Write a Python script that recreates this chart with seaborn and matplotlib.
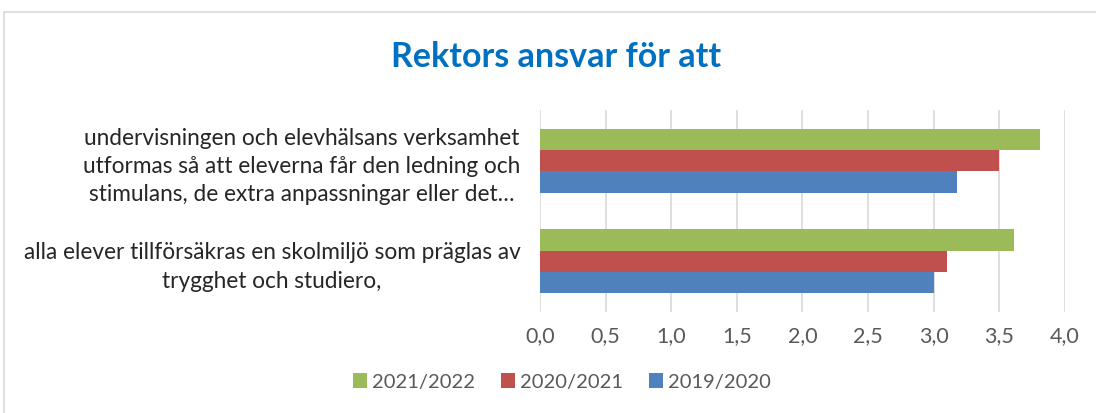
import matplotlib
matplotlib.use("Agg")
import matplotlib.pyplot as plt
import seaborn as sns
import pandas as pd
from matplotlib.patches import Rectangle
from matplotlib.ticker import FuncFormatter, MultipleLocator

categories = [
    "undervisningen och elevhälsans verksamhet\nutformas så att eleverna får den ledning och\nstimulans, de extra anpassningar eller det…",
    "alla elever tillförsäkras en skolmiljö som präglas av\ntrygghet och studiero,",
]
series = ["2021/2022", "2020/2021", "2019/2020"]
values_2021_2022 = [3.81, 3.61]
values_2020_2021 = [3.50, 3.10]
values_2019_2020 = [3.18, 3.00]
colors = ["#9BBB59", "#C0504D", "#4F81BD"]

rows = []
for s, vals in zip(series, [values_2021_2022, values_2020_2021, values_2019_2020]):
    for c, v in zip(categories, vals):
        rows.append({"category": c, "series": s, "value": v})
df = pd.DataFrame(rows)

sns.set_theme(style="white")
plt.rcParams["font.family"] = ["Lato", "DejaVu Sans"]

fig = plt.figure(figsize=(10.96, 4.13), dpi=100)
fig.patches.append(Rectangle((4 / 1096, -0.1), 1.2, 1 - 12 / 413 + 0.1,
                             transform=fig.transFigure, fill=False,
                             edgecolor="#D9D9D9", linewidth=1.2))
ax = fig.add_axes([540 / 1096, 1 - 311.8 / 413, (1064.7 - 540) / 1096, (311.8 - 110.2) / 413])

sns.barplot(data=df, y="category", x="value", hue="series", order=categories,
            hue_order=series, palette=colors, orient="h", width=0.635,
            saturation=1, ax=ax, legend=True, edgecolor="none")

ax.set_xlim(0, 4.0)
ax.xaxis.set_major_locator(MultipleLocator(0.5))
ax.xaxis.set_major_formatter(FuncFormatter(lambda v, p: f"{v:.1f}".replace(".", ",")))
ax.grid(axis="x", color="#D9D9D9", linewidth=1.2)
ax.set_axisbelow(True)
for sp in ax.spines.values():
    sp.set_visible(False)
ax.set_xlabel("")
ax.set_ylabel("")
ax.tick_params(axis="x", length=0, pad=10, labelsize=15.5, labelcolor="#595959")
ax.tick_params(axis="y", length=0, pad=14, labelsize=16.3, labelcolor="#262626")
for lbl in ax.get_yticklabels():
    lbl.set_multialignment("center")
    lbl.set_linespacing(1.42)

handles, labels = ax.get_legend_handles_labels()
ax.legend_.remove()
fig.legend(handles, labels, loc="center", bbox_to_anchor=(562 / 1096, 1 - 382 / 413),
           ncol=3, frameon=False, fontsize=14.5, labelcolor="#595959",
           handlelength=0.7, handleheight=0.7, handletextpad=0.25, columnspacing=1.3)

fig.text(556 / 1096, 1 - 57 / 413, "Rektors ansvar för att", ha="center", va="center",
         fontsize=24.5, fontweight="bold", color="#0070C0")

fig.savefig("out.png", dpi=100)
